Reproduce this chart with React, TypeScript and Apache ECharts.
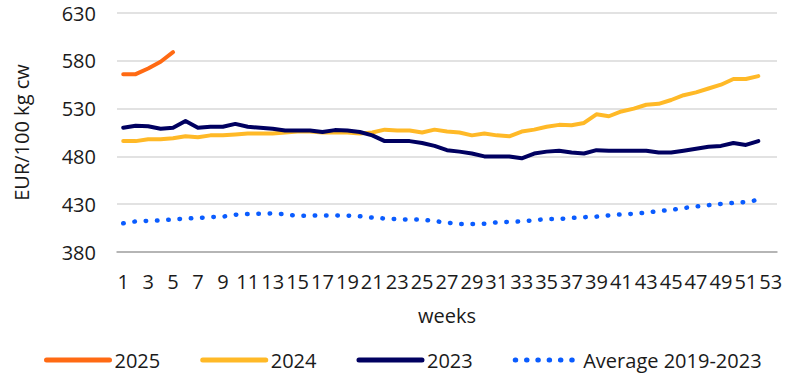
import React, { useEffect, useRef } from "react";
import * as echarts from "echarts";

const weeks: string[] = Array.from({ length: 53 }, (_, i) => String(i + 1));

const yTicks = { min: 380, max: 630, interval: 50 };

const s2025: number[] = [566, 566, 572, 579, 589];

const s2024: number[] = [
  496, 496, 498, 498, 499, 501, 500, 502, 502, 503,
  504, 504, 504, 505, 506, 506, 505, 505, 505, 504,
  505, 508, 507, 507, 505, 508, 506, 505, 502, 504,
  502, 501, 506, 508, 511, 513, 512.5, 515, 524, 522,
  527, 530, 534, 535, 539, 544, 547, 551, 555, 561,
  561, 564,
];

const s2023: number[] = [
  510, 512, 511.5, 509, 510, 517, 510, 511, 511, 514,
  511, 510, 509, 507, 507, 507, 505.5, 507.5, 507, 505.5,
  502, 496, 496, 496, 494, 491, 486.5, 485, 483, 480,
  480, 480, 478, 483, 485, 486, 484, 483, 486.5, 486,
  486, 486, 486, 484, 484, 486, 488, 490, 491, 494,
  492, 496,
];

const sAvg: number[] = [
  410, 412, 412.5, 413, 414, 415, 415.5, 416.5, 417, 419,
  419.7, 420, 420.3, 419.5, 417.8, 418, 418.3, 418.3, 418, 417.4,
  416, 415, 414.3, 414, 414, 412.3, 410.8, 409.3, 409.3, 409.5,
  411, 411.5, 412, 413.3, 414.4, 414.5, 415.6, 416.4, 417, 418.3,
  419.3, 420, 421.2, 422.8, 424, 426, 427.6, 429, 430.3, 431.3,
  432.3, 434.5,
];

const FONT = "Open Sans";
const TEXT = "#1a1a1a";
const FS = 20;

export default function App() {
  const ref = useRef<HTMLDivElement>(null);
  useEffect(() => {
    document.body.style.margin = "0";
    if (!ref.current) return;
    const chart = echarts.init(ref.current, null, { renderer: "svg" });
    const solid = (name: string, data: number[], color: string) => ({
      name,
      type: "line",
      data,
      symbol: "none",
      showSymbol: false,
      lineStyle: { color, width: 4, cap: "round", join: "round" },
      itemStyle: { color },
    });
    chart.setOption({
      animation: false,
      textStyle: { fontFamily: FONT },
      grid: { left: 117, right: 33, top: 13, bottom: 127, containLabel: false },
      legend: {
        left: 39,
        top: 345,
        itemWidth: 63,
        itemHeight: 14,
        itemGap: 40,
        itemStyle: { opacity: 0 },
        lineStyle: { width: 5, cap: "round" },
        textStyle: { fontFamily: FONT, fontSize: FS, color: TEXT },
        data: ["2025", "2024", "2023", "Average 2019-2023"],
      },
      xAxis: {
        type: "category",
        data: weeks,
        boundaryGap: true,
        name: "weeks",
        nameLocation: "middle",
        nameGap: 53,
        nameTextStyle: { fontFamily: FONT, fontSize: FS, color: TEXT },
        axisLine: { lineStyle: { color: "#a6a6a6", width: 1.5 } },
        axisTick: { show: false },
        axisLabel: { interval: 1, margin: 19, fontFamily: FONT, fontSize: FS, color: TEXT },
        splitLine: { show: false },
      },
      yAxis: {
        type: "value",
        min: yTicks.min,
        max: yTicks.max,
        interval: yTicks.interval,
        name: "EUR/100 kg cw",
        nameLocation: "middle",
        nameGap: 86,
        nameTextStyle: { fontFamily: FONT, fontSize: FS, color: TEXT },
        axisLine: { show: false },
        axisTick: { show: false },
        axisLabel: { margin: 21, fontFamily: FONT, fontSize: FS, color: TEXT },
        splitLine: { lineStyle: { color: "#d9d9d9", width: 1.5 } },
      },
      series: [
        solid("2025", s2025, "#ff6a13"),
        solid("2024", s2024, "#ffb927"),
        solid("2023", s2023, "#000060"),
        {
          name: "Average 2019-2023",
          type: "line",
          data: sAvg,
          symbol: "none",
          showSymbol: false,
          lineStyle: { color: "#0a5cff", width: 4.5, type: [0.5, 10.8], cap: "round", join: "round" },
          itemStyle: { color: "#0a5cff" },
        },
      ],
    });
    return () => chart.dispose();
  }, []);
  return <div ref={ref} style={{ width: 810, height: 379 }} />;
}
